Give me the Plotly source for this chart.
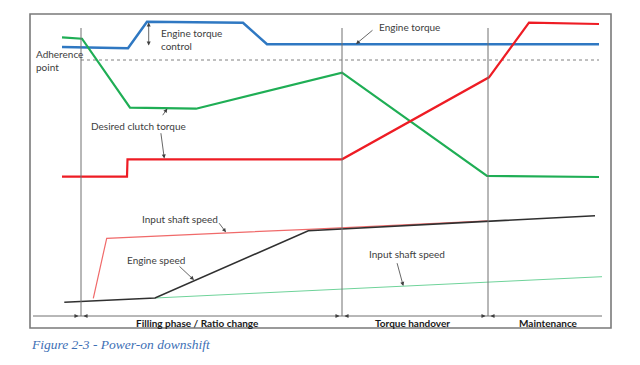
import plotly.graph_objects as go

# ---- data (time in arbitrary units, level in arbitrary units) ----
engine_torque_t = [62, 128, 147, 243, 267, 599]
engine_torque_v = [318, 316.7, 343.3, 342.3, 320.7, 320.7]

desired_clutch_t = [62, 82, 130, 196, 342, 487, 599]
desired_clutch_v = [327.7, 326.3, 257.3, 256.3, 292.3, 189, 188]

oncoming_clutch_t = [62, 127, 127.5, 342, 489, 529, 599]
oncoming_clutch_v = [188.3, 188.3, 205.7, 205.7, 287.7, 342.3, 341]

adherence_t = [81, 599]
adherence_v = [305, 305]

input_shaft_t = [93.3, 106.7, 308.3, 488]
input_shaft_v = [66.7, 126.7, 135.7, 144.2]

engine_speed_t = [64.3, 155, 308.3, 595]
engine_speed_v = [62.7, 67, 134.3, 149.3]

input_shaft2_t = [155, 602]
input_shaft2_v = [67, 88.3]

phase_bounds = [81, 342, 488]
phase_names = ["Filling phase / Ratio change", "Torque handover", "Maintenance"]
phase_centers = [197, 412, 548]

fig = go.Figure()

def line(t, v, color, width, dash="solid"):
    fig.add_trace(go.Scatter(x=t, y=v, mode="lines",
                             line=dict(color=color, width=width, dash=dash),
                             hoverinfo="skip", showlegend=False))

# frame
fig.add_shape(type="rect", x0=30, x1=611, y0=37, y1=351,
              line=dict(color="#7a7a7a", width=1.6), layer="below")
# phase boundaries
for b in phase_bounds:
    fig.add_shape(type="line", x0=b, x1=b, y0=49, y1=337,
                  line=dict(color="#707070", width=1))
# time axis
fig.add_shape(type="line", x0=33, x1=602, y0=49, y1=49,
              line=dict(color="#707070", width=1))

line(adherence_t, adherence_v, "#808080", 1, "dot")
line(input_shaft2_t, input_shaft2_v, "#6fd39a", 1)
line(input_shaft_t, input_shaft_v, "#f06a6a", 1.2)
line(engine_speed_t, engine_speed_v, "#303030", 1.6)
line(engine_torque_t, engine_torque_v, "#2f78c2", 2.5)
line(desired_clutch_t, desired_clutch_v, "#1fae55", 2.2)
line(oncoming_clutch_t, oncoming_clutch_v, "#ee1c24", 2.2)

TXT = dict(family="Lato, Liberation Sans, sans-serif", size=10, color="#404040")
BOLD = dict(family="Lato, Liberation Sans, sans-serif", size=10, color="#1a1a1a")
ann = []

def label(x, y, text, xanchor="center", align="center"):
    ann.append(dict(x=x, y=y, text=text, showarrow=False, xanchor=xanchor,
                    yanchor="middle", align=align, font=TXT))

def arrow(x, y, ax, ay, side="end"):
    ann.append(dict(x=x, y=y, ax=ax, ay=ay, axref="x", ayref="y", text="",
                    showarrow=True, arrowhead=2, arrowsize=1, arrowwidth=0.8,
                    arrowcolor="#404040", arrowside=side))

label(34, 304.5, "Adherence<br>point", xanchor="left", align="left")
label(159, 326, "Engine torque<br>control", xanchor="left", align="left")
arrow(148.7, 342.5, 148.7, 318, side="end+start")
label(377, 338, "Engine torque", xanchor="left")
arrow(356, 321, 374, 336)
label(138, 239.5, "Desired clutch torque")
arrow(167.3, 256.5, 161.7, 248.3)
arrow(164.3, 206.5, 160.7, 233.3)
label(180, 146, "Input shaft speed")
arrow(226, 132.7, 218, 143.3)
label(156, 105.5, "Engine speed")
arrow(194, 85, 178, 100)
label(407, 111.5, "Input shaft speed")
arrow(403.3, 79, 396.7, 103.3)

for c, n in zip(phase_centers, phase_names):
    ann.append(dict(x=c, y=42.5, text="<b>" + n + "</b>", showarrow=False,
                    xanchor="center", yanchor="middle", font=BOLD))

# phase boundary arrowheads on time axis
for b in phase_bounds:
    arrow(b - 2.5, 49, b - 8, 49)
    arrow(b + 2.5, 49, b + 8, 49)

ann.append(dict(x=29, y=21, text="<i>Figure 2-3 - Power-on downshift</i>",
                showarrow=False, xanchor="left", yanchor="middle",
                font=dict(family="Liberation Serif, serif", size=13.5, color="#3d6fb5")))

# the page body has an 8px margin; offset the ranges so the drawing lands in place
fig.update_layout(
    width=640, height=365, margin=dict(l=0, r=0, t=0, b=0),
    paper_bgcolor="white", plot_bgcolor="white",
    xaxis=dict(range=[8, 648], visible=False, fixedrange=True),
    yaxis=dict(range=[-8, 357], visible=False, fixedrange=True),
    annotations=ann, hovermode=False,
)

fig.write_html("out.html")
